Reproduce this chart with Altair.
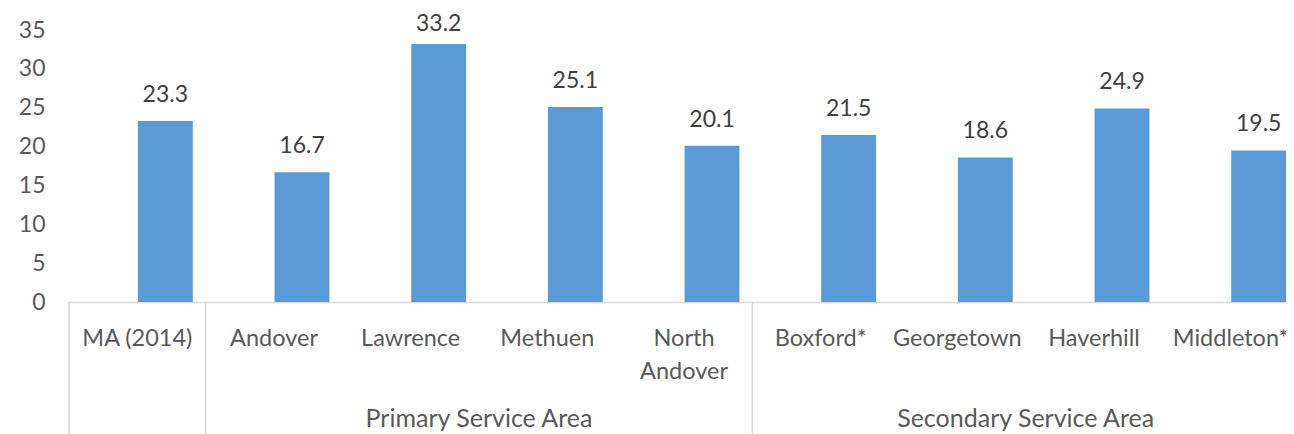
import altair as alt
import pandas as pd

categories = ["MA (2014)", "Andover", "Lawrence", "Methuen", "North Andover",
              "Boxford*", "Georgetown", "Haverhill", "Middleton*"]
values = [23.3, 16.7, 33.2, 25.1, 20.1, 21.5, 18.6, 24.9, 19.5]
y_ticks = [0, 5, 10, 15, 20, 25, 30, 35]
group_names = ["Primary Service Area", "Secondary Service Area"]
group_anchor = ["Methuen", "Haverhill"]          # group label sits at this category's left edge
sep_left = ["MA (2014)", "Andover", "Boxford*"]   # separator at left edge of these
sep_right = ["Middleton*"]                        # separator at right edge
LABEL_CAP = 32.4                                  # labels of taller bars are kept inside the plot (as Excel does)

BAR = "#5B9BD5"
TXT = "#595959"
LINE = "#D9D9D9"
FONT = "Lato"
FS = 23.5
H = 272

bars_df = pd.DataFrame({"cat": categories, "val": values, "series": ["value"] * len(values)})
grp_df = pd.DataFrame({"anchor": group_anchor, "name": group_names})
sepl_df = pd.DataFrame({"cat": sep_left})
sepr_df = pd.DataFrame({"cat": sep_right})

xscale = alt.Scale(domain=categories, paddingInner=0, paddingOuter=0)
yscale = alt.Scale(domain=[0, 35], nice=False, zero=True)
offscale = alt.Scale(domain=["blank", "value"], paddingInner=0.02, paddingOuter=0.23)

xaxis = alt.Axis(
    title=None, labelAngle=0, ticks=False, domainColor=LINE, domainWidth=1.5,
    labelFont=FONT, labelFontSize=FS, labelColor=TXT, labelPadding=43,
    labelLineHeight=33, labelBaseline="alphabetic", labelOverlap=False,
    labelExpr="datum.value == 'North Andover' ? ['North', 'Andover'] : datum.value",
)
yaxis = alt.Axis(
    title=None, values=y_ticks, grid=False, domain=False, ticks=False,
    labelFont=FONT, labelFontSize=23, labelColor=TXT, labelPadding=24,
    labelOverlap=False,
)

X = lambda field, **kw: alt.X(field, scale=xscale, sort=categories, axis=xaxis, **kw)

base = alt.Chart(bars_df)
bars = base.mark_bar(color=BAR).encode(
    x=X("cat:N"),
    xOffset=alt.XOffset("series:N", scale=offscale),
    y=alt.Y("val:Q", scale=yscale, axis=yaxis),
)
labels = base.transform_calculate(
    ly=f"min(datum.val, {LABEL_CAP})"
).mark_text(font=FONT, fontSize=23, color="#404040", baseline="alphabetic", dy=-19).encode(
    x=X("cat:N"),
    xOffset=alt.XOffset("series:N", scale=offscale),
    y=alt.Y("ly:Q", scale=yscale, axis=yaxis),
    text=alt.Text("val:Q", format=".1f"),
)
sep_l = alt.Chart(sepl_df).mark_rule(color=LINE, strokeWidth=1.5).encode(
    x=X("cat:N", bandPosition=0),
    y=alt.value(H), y2=alt.value(H + 140),
)
sep_r = alt.Chart(sepr_df).mark_rule(color=LINE, strokeWidth=1.5).encode(
    x=X("cat:N", bandPosition=1),
    y=alt.value(H), y2=alt.value(H + 140),
)
grp = alt.Chart(grp_df).mark_text(font=FONT, fontSize=25, color=TXT, baseline="alphabetic").encode(
    x=X("anchor:N", bandPosition=0),
    y=alt.value(H + 125),
    text="name:N",
)

# the reference crops the chart at its right edge: a negative right padding does the same
chart = alt.layer(bars, labels, sep_l, sep_r, grp).properties(
    width=1230, height=H,
    background="white",
    autosize=alt.AutoSizeParams(type="none"),
    padding={"left": 61, "top": 22, "right": -13, "bottom": 132},
).configure_view(stroke=None)

chart.save("out.html", embed_options={"renderer": "svg", "actions": False})
